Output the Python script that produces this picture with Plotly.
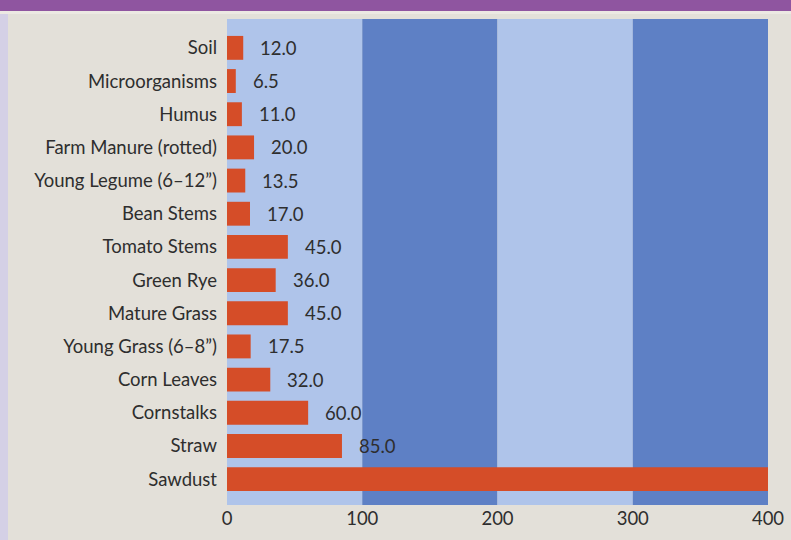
import plotly.graph_objects as go

categories = ["Soil", "Microorganisms", "Humus", "Farm Manure (rotted)", "Young Legume (6\u201312\u201d)",
              "Bean Stems", "Tomato Stems", "Green Rye", "Mature Grass", "Young Grass (6\u20138\u201d)",
              "Corn Leaves", "Cornstalks", "Straw", "Sawdust"]
values = [12.0, 6.5, 11.0, 20.0, 13.5, 17.0, 45.0, 36.0, 45.0, 17.5, 32.0, 60.0, 85.0, 500.0]
labels = ["12.0", "6.5", "11.0", "20.0", "13.5", "17.0", "45.0", "36.0", "45.0", "17.5", "32.0", "60.0", "85.0", ""]
xticks = [0, 100, 200, 300, 400]

FONT = "Lato"
FS = 18.5
TXT = "#2e2e2e"
LIGHT = "#afc4ea"
DARK = "#5e80c5"
BAR = "#d54d28"

fig = go.Figure()
fig.add_trace(go.Bar(
    x=values, y=categories, orientation="h",
    marker=dict(color=BAR, line=dict(width=0)),
    width=0.72, hoverinfo="skip",
))

shapes = []
for i in range(4):
    shapes.append(dict(type="rect", xref="x", yref="paper", x0=xticks[i], x1=xticks[i + 1], y0=0, y1=1,
                       fillcolor=LIGHT if i % 2 == 0 else DARK, line=dict(width=0), layer="below"))
# left lavender edge
shapes.append(dict(type="rect", xref="paper", yref="paper", x0=-227 / 541, x1=-227 / 541 + 8 / 541,
                   y0=-0.1, y1=1.1, fillcolor="#d4d0e6", line=dict(width=0), layer="below"))
# light strip under header
shapes.append(dict(type="rect", xref="paper", yref="paper", x0=-1, x1=2, y0=1 + 5 / 486, y1=1 + 8 / 486,
                   fillcolor="#ece9e3", line=dict(width=0), layer="below"))
# purple header band
shapes.append(dict(type="rect", xref="paper", yref="paper", x0=-1, x1=2, y0=1 + 8 / 486, y1=1.2,
                   fillcolor="#8f55a0", line=dict(width=0)))

annotations = []
for c, v, t in zip(categories, values, labels):
    if t:
        annotations.append(dict(x=v, y=c, xref="x", yref="y", text=t, showarrow=False,
                                xanchor="left", xshift=15, font=dict(family=FONT, size=FS, color=TXT)))

fig.update_layout(
    width=791, height=540,
    margin=dict(l=227, r=23, t=19, b=35),
    paper_bgcolor="#e3e0d9", plot_bgcolor="rgba(0,0,0,0)",
    showlegend=False,
    shapes=shapes,
    annotations=annotations,
    font=dict(family=FONT, size=FS, color=TXT),
)
fig.update_xaxes(range=[0, 400], tickvals=xticks, ticktext=[str(t) for t in xticks], automargin=False,
                 showgrid=False, zeroline=False, showline=False, ticks="", ticklabelstandoff=0,
                 tickfont=dict(family=FONT, size=FS, color=TXT), fixedrange=True)
fig.update_yaxes(categoryorder="array", categoryarray=categories[::-1], autorange=False, automargin=False,
                 range=[-0.78, len(categories) - 1 + 0.87],
                 showgrid=False, zeroline=False, showline=False, ticks="", ticklabelstandoff=9,
                 tickfont=dict(family=FONT, size=FS, color=TXT), fixedrange=True)

fig.write_html("out.html")
